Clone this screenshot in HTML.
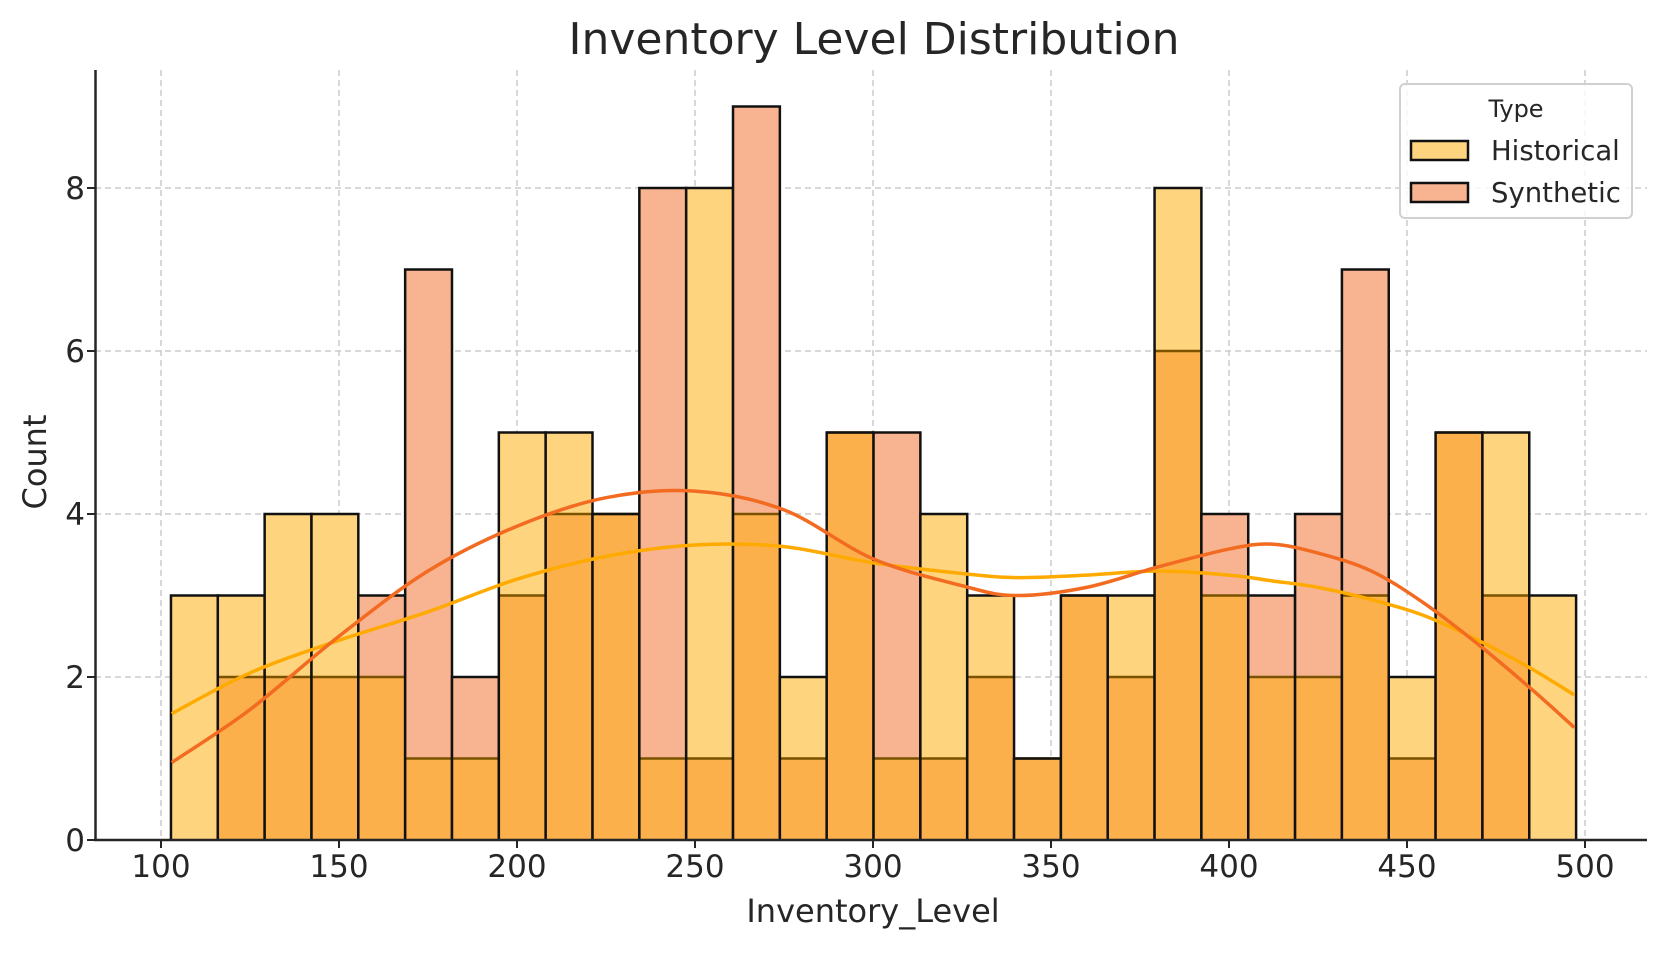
<!DOCTYPE html>
<html><head><meta charset="utf-8"><style>
html,body{margin:0;padding:0;background:#fff;}
svg text{font-family:"DejaVu Sans","Liberation Sans",sans-serif;fill:#262626;}
</style></head><body>
<svg id="chart" width="1665" height="948" xmlns="http://www.w3.org/2000/svg">
<text x="874" y="54" font-size="44" text-anchor="middle">Inventory Level Distribution</text>
<g id="grid"></g><g id="bars"></g><g id="kde"></g><g id="axes"></g>
<text x="873" y="922" font-size="32" text-anchor="middle">Inventory_Level</text>
<text transform="translate(46,462) rotate(-90)" font-size="32" text-anchor="middle">Count</text>
<g>
<rect x="1400" y="84" width="232" height="134" rx="5" fill="#fff" fill-opacity="0.8" stroke="#d0d0d0" stroke-width="2"/>
<text x="1516" y="117" font-size="24" text-anchor="middle">Type</text>
<rect x="1411" y="141" width="57" height="19" fill="#FFD47F" stroke="#111" stroke-width="2.5"/>
<text x="1491" y="160" font-size="27.5">Historical</text>
<rect x="1411" y="183" width="57" height="19" fill="#F8B391" stroke="#111" stroke-width="2.5"/>
<text x="1491" y="202" font-size="27.5">Synthetic</text>
</g>
</svg>
<script>
const binStart = 102.8, binEnd = 497.5;
const historical = [3,3,4,4,2,1,1,5,5,4,1,8,4,2,5,1,4,3,1,3,3,8,3,2,2,3,2,5,5,3];
const synthetic  = [0,2,2,2,3,7,2,3,4,4,8,1,9,1,5,5,1,2,1,3,2,6,4,3,4,7,1,5,3,0];
const kdeX = [103,125,150,175,200,225,250,275,300,325,340,360,380,400,412,425,440,455,470,485,497];
const kdeHist = [1.55,2.05,2.45,2.8,3.2,3.48,3.62,3.6,3.4,3.27,3.22,3.25,3.3,3.25,3.18,3.1,2.95,2.75,2.45,2.1,1.78];
const kdeSyn  = [0.95,1.6,2.5,3.3,3.85,4.2,4.28,4.05,3.45,3.12,3.0,3.1,3.35,3.57,3.63,3.52,3.3,2.9,2.4,1.85,1.38];
const xTicks = [100,150,200,250,300,350,400,450,500];
const yTicks = [0,2,4,6,8];

const NS="http://www.w3.org/2000/svg";
const X = v => 161 + (v-100)*3.56;
const Y = v => 840 - v*81.5;
function mk(tag, attrs, parent){const e=document.createElementNS(NS,tag);for(const k in attrs)e.setAttribute(k,attrs[k]);document.getElementById(parent).appendChild(e);return e;}

xTicks.forEach(t=>{const l=mk('line',{x1:X(t),x2:X(t),y1:70,y2:840,stroke:'#cccccc','stroke-width':1.5,'stroke-dasharray':'6,4'},'grid');

});
yTicks.forEach(t=>{const l=mk('line',{x1:95,x2:1647,y1:Y(t),y2:Y(t),stroke:'#cccccc','stroke-width':1.5,'stroke-dasharray':'6,4'},'grid');

});

const bw=(binEnd-binStart)/historical.length;
historical.forEach((h,i)=>{
  const s=synthetic[i];
  const x0=X(binStart+i*bw), x1=X(binStart+(i+1)*bw);
  const lo=Math.min(h,s), hi=Math.max(h,s);
  const topCol = h>=s ? '#FFD47F' : '#F8B391';
  if(hi>lo){const r=mk('rect',{x:x0,y:Y(hi),width:x1-x0,height:Y(lo)-Y(hi),fill:topCol},'bars');
    
    }
  if(lo>0){const r=mk('rect',{x:x0,y:Y(lo),width:x1-x0,height:Y(0)-Y(lo),fill:'#FBB04B'},'bars');
    
    
    mk('line',{x1:x0,x2:x1,y1:Y(lo),y2:Y(lo),stroke:'#7a5200','stroke-width':2.5},'bars');}
  if(hi>0){const o=mk('path',{d:`M${x0},${Y(0)}V${Y(hi)}H${x1}V${Y(0)}`,fill:'none',stroke:'#111','stroke-width':2.5},'bars');
    
    }
});

function curve(xs,ys){const p=xs.map((x,i)=>[X(x),Y(ys[i])]);let d=`M${p[0][0]},${p[0][1]}`;
 for(let i=0;i<p.length-1;i++){const p0=p[i-1]||p[i],p1=p[i],p2=p[i+1],p3=p[i+2]||p[i+1];
 d+=`C${p1[0]+(p2[0]-p0[0])/6},${p1[1]+(p2[1]-p0[1])/6} ${p2[0]-(p3[0]-p1[0])/6},${p2[1]-(p3[1]-p1[1])/6} ${p2[0]},${p2[1]}`;}return d;}
const kh=mk('path',{d:curve(kdeX,kdeHist),fill:'none',stroke:'#FFAA00','stroke-width':3.5},'kde');


const ks=mk('path',{d:curve(kdeX,kdeSyn),fill:'none',stroke:'#F26B21','stroke-width':3.5},'kde');



mk('line',{x1:95.5,x2:95.5,y1:70,y2:841,stroke:'#262626','stroke-width':2.5},'axes');
mk('line',{x1:94,x2:1647,y1:840,y2:840,stroke:'#262626','stroke-width':2.5},'axes');
xTicks.forEach(t=>{mk('line',{x1:X(t),x2:X(t),y1:840,y2:848,stroke:'#262626','stroke-width':2},'axes');
 const tx=mk('text',{x:X(t),y:877,'font-size':31,'text-anchor':'middle'},'axes');tx.textContent=t;
 
 });
yTicks.forEach(t=>{mk('line',{x1:87,x2:95,y1:Y(t),y2:Y(t),stroke:'#262626','stroke-width':2},'axes');
 const tx=mk('text',{x:85,y:Y(t)+11,'font-size':31,'text-anchor':'end'},'axes');tx.textContent=t;
 
 });
</script>
</body></html>
